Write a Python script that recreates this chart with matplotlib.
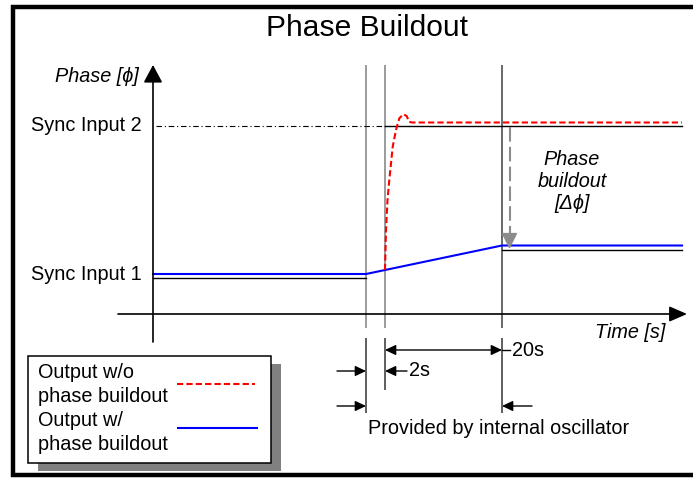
import matplotlib.pyplot as plt
from matplotlib.patches import Rectangle

# schematic units: origin where the axes cross, 1 unit ~ 1 px
t_switch = 213   # reference switch
t_ref = 232      # new reference valid (+2s)
t_done = 349     # buildout finished (+20s)
t_end = 529

sync1 = 36
sync2 = 188
settled = 64

blue_t = [0, 213, 349, 529]
blue_p = [40, 40, 68.5, 68.5]

red_t = [232, 233, 234.5, 236.3, 239.7, 243, 246.3, 250.3, 253.7, 256, 259, 529]
red_p = [44, 84, 114, 134, 167.3, 184, 195.7, 199.7, 198, 192.3, 191.5, 191.5]

plt.rcParams['font.family'] = ['Liberation Sans', 'DejaVu Sans']

fig = plt.figure(figsize=(6.93, 4.79), dpi=100)
ax = fig.add_axes([0, 0, 1, 1])
ax.set_xlim(-153, 540)
ax.set_ylim(-165, 314)
ax.axis('off')


def arrow(tail, tip, color='black', lw=1.0, hl=6.5, hw=3.0, style='-|>'):
    ax.annotate('', xy=tip, xytext=tail,
                arrowprops=dict(arrowstyle=f'{style},head_length={hl},head_width={hw}',
                                color=color, lw=lw, mutation_scale=1,
                                shrinkA=0, shrinkB=0))


# outer frame
ax.plot([560, -140.5, -140.5, 560], [307, 307, -161, -161], color='black',
        lw=3.2, solid_joinstyle='miter')

ax.text(214, 286, 'Phase Buildout', fontsize=21.6, ha='center', va='center')

# axes
arrow((0, -28), (0, 249), lw=1.2, hl=10.8, hw=5.8)
arrow((-35, 0), (534, 0), lw=1.2, hl=10.8, hw=4.7)
ax.text(-14, 238, 'Phase [\u03d5]', fontsize=14.3, style='italic', ha='right', va='center')
ax.text(512, -18, 'Time [s]', fontsize=14.3, style='italic', ha='right', va='center')

# event markers
ax.vlines([t_switch, t_ref], -14, 249, color='#808080', lw=1.1)
ax.vlines([t_done], -14, 249, color='#404040', lw=1.1)
ax.vlines([t_switch, t_done], -24, -99, color='#333333', lw=1.1)
ax.vlines([t_ref], -24, -76, color='#333333', lw=1.1)

# reference levels
ax.plot([0, t_switch], [sync1, sync1], color='black', lw=1.0)
ax.plot([3, t_ref], [sync2, sync2], color='black', lw=0.8, ls=(0, (5, 2.5, 1, 2.5)))
ax.plot([t_ref, t_end], [sync2, sync2], color='black', lw=1.0)
ax.plot([t_done, t_end], [settled, settled], color='black', lw=1.0)
ax.text(-11.5, sync2 + 1, 'Sync Input 2', fontsize=14.3, ha='right', va='center')
ax.text(-11, 40, 'Sync Input 1', fontsize=14.3, ha='right', va='center')

# outputs
ax.plot(blue_t, blue_p, color='#0000ff', lw=1.5)
ax.plot(red_t, red_p, color='#ff0000', lw=1.5, ls=(0, (3, 1.5)))

# phase buildout offset
gx = t_done + 7.5
ax.plot([gx, gx], [187, 79], color='#8c8c8c', lw=1.5, ls=(0, (7, 2.5)))
arrow((gx, 80), (gx, 65), color='#8c8c8c', lw=1.0, hl=10, hw=5)
ax.text(419, 155, 'Phase', fontsize=14.3, style='italic', ha='center', va='center')
ax.text(419, 132.5, 'buildout', fontsize=14.3, style='italic', ha='center', va='center')
ax.text(419, 110.5, '[\u0394\u03d5]', fontsize=14.3, style='italic', ha='center', va='center')

# timing dimensions
arrow((t_ref, -36), (t_done, -36), style='<|-|>', hl=6.5, hw=3.1)
ax.plot([t_done, t_done + 8], [-36, -36], color='black', lw=1.0)
ax.text(359, -36, '20s', fontsize=14.3, ha='left', va='center')
arrow((t_ref + 22, -57), (t_ref, -57), hl=6.5, hw=3.1)
ax.text(256, -57, '2s', fontsize=14.3, ha='left', va='center')
arrow((t_switch - 29, -57), (t_switch, -57), hl=6.5, hw=3.1)
arrow((t_switch - 29, -92), (t_switch, -92), hl=6.5, hw=3.1)
arrow((t_done + 30, -92), (t_done, -92), hl=6.5, hw=3.1)
ax.text(215, -114, 'Provided by internal oscillator', fontsize=14.3, ha='left', va='center')

# legend box
ax.add_patch(Rectangle((-115, -157), 243, 107, facecolor='#808080', edgecolor='none'))
ax.add_patch(Rectangle((-125, -149), 243, 107, facecolor='white', edgecolor='black', lw=1.1))
ax.text(-115, -59, 'Output w/o', fontsize=14.3, ha='left', va='center')
ax.text(-115, -83, 'phase buildout', fontsize=14.3, ha='left', va='center')
ax.text(-115, -107, 'Output w/', fontsize=14.3, ha='left', va='center')
ax.text(-115, -130, 'phase buildout', fontsize=14.3, ha='left', va='center')
ax.plot([24, 102], [-70, -70], color='#ff0000', lw=1.5, ls=(0, (3, 1.5)))
ax.plot([25, 104], [-114, -114], color='#0000ff', lw=1.5)

fig.savefig('out.png', dpi=100)
